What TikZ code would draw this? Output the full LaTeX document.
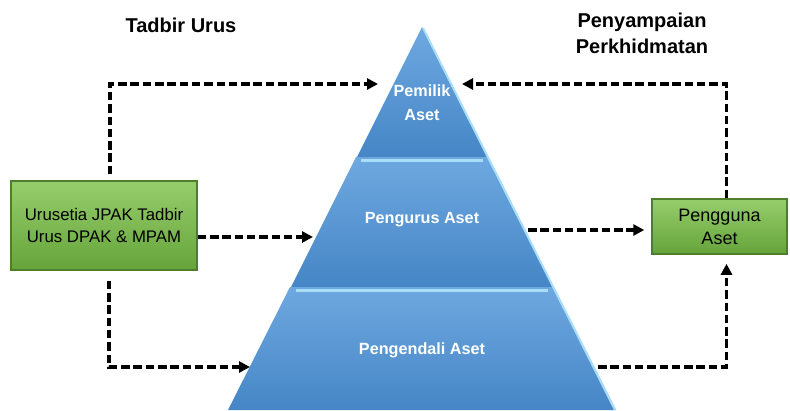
\documentclass[tikz,border=0pt]{standalone}
\usepackage{fontspec}
\setmainfont{Liberation Sans}
\usetikzlibrary{arrows.meta}
\definecolor{gtop}{HTML}{96CE6C}
\definecolor{gbot}{HTML}{66A43A}
\definecolor{gedge}{HTML}{4E7E2C}
\definecolor{btop}{HTML}{6EA8E0}
\definecolor{bbot}{HTML}{4686C6}
\definecolor{bhi}{HTML}{A8DEF6}
\begin{document}
\begin{tikzpicture}[x=1pt,y=-1pt,
  flow/.style={line width=3.2pt, dash pattern=on 8.5pt off 3.8pt,
    -{Triangle[length=11pt,width=11pt]}},
  greenbox/.style={draw=gedge, line width=1.5pt, top color=gtop, bottom color=gbot,
    align=center, inner sep=0pt},
  layer/.style={top color=btop, bottom color=bbot, draw=none},
  ptext/.style={text=white, font=\bfseries\fontsize{16.2}{24}\selectfont, align=center},
  title/.style={font=\bfseries\fontsize{20}{26}\selectfont, align=center}
]
\useasboundingbox (0,0) rectangle (790,410);
\fill[white] (0,0) rectangle (790,410);

% pyramid layers
\shade[layer] (422,27) -- (487,157) -- (357,157) -- cycle;
\shade[layer] (356,157) -- (488,157) -- (553,287) -- (291,287) -- cycle;
\shade[layer] (290,287) -- (554,287) -- (616,410) -- (228,410) -- cycle;
% divider highlights
\draw[bhi, line width=3pt] (361,160) -- (483,160);
\draw[bhi, line width=3pt] (296,290) -- (548,290);
% right edge highlight
\draw[bhi, line width=2pt] (423,28) -- (615,410);

% pyramid labels
\node[ptext] (pem) at (422,103) {Pemilik\\Aset};
\node[ptext] (pen) at (422,220) {Pengurus Aset};
\node[ptext] (ped) at (422,350) {Pengendali Aset};

% titles
\node[title] (tad) at (181,25) {Tadbir Urus};
\node[title] (pen2) at (642,33) {Penyampaian\\Perkhidmatan};

% boxes
\node[greenbox, font=\fontsize{16.8}{22}\selectfont,
  minimum width=186pt, minimum height=89pt] (ur) at (104,225.5)
  {Urusetia JPAK Tadbir\\Urus DPAK \& MPAM};
\node[greenbox, font=\fontsize{18}{23}\selectfont,
  minimum width=135pt, minimum height=55pt] (pg) at (719.5,226.5)
  {Pengguna\\Aset};

% arrow end points on pyramid
\coordinate (tlA) at (378,84);
\coordinate (trA) at (462,84);
\coordinate (mlA) at (313,237);
\coordinate (mrA) at (528,230);
\coordinate (blA) at (250,367);
\coordinate (brA) at (598,367);

% connectors
\draw[flow] ([xshift=6pt,yshift=6pt]ur.north) |- (tlA);
\draw[flow] ([xshift=7pt]pg.north) |- (trA);
\draw[flow] (ur.east |- mlA) -- (mlA);
\draw[flow] (mrA) -- ([xshift=-7pt]pg.west |- mrA);
\draw[flow] ([xshift=5pt,yshift=-10pt]ur.south) |- (blA);
\draw[flow] (brA) -| ([xshift=7pt,yshift=-9pt]pg.south);
\end{tikzpicture}
\end{document}
